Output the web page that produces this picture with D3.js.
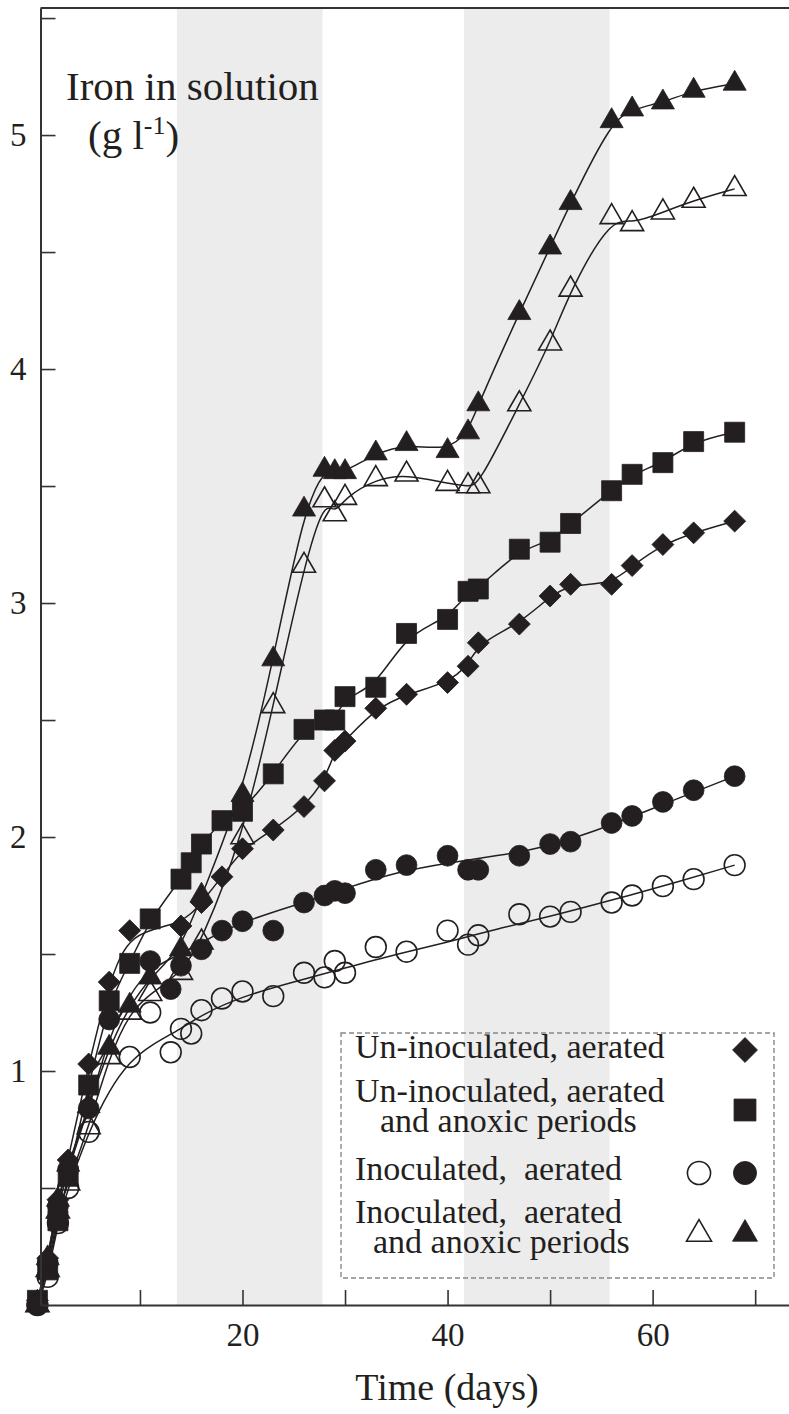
<!DOCTYPE html>
<html>
<head>
<meta charset="utf-8">
<script src="https://cdn.jsdelivr.net/npm/d3@7"></script>
<style>
  body { margin: 0; background: #fff; }
  svg { display: block; }
</style>
</head>
<body>
<svg id="chart" width="789" height="1414"></svg>
<script>
// Dissolved iron (g/l) against time (days), one [day, value] list per run
const uninocAerated = [[0,0.02],[1,0.2],[2,0.45],[3,0.62],[5,1.03],[7,1.38],[9,1.60],[14,1.62],[16,1.72],[18,1.83],[20,1.95],[23,2.03],[26,2.13],[28,2.24],[29,2.37],[30,2.41],[33,2.55],[36,2.61],[40,2.66],[42,2.73],[43,2.83],[47,2.91],[50,3.03],[52,3.08],[56,3.08],[58,3.16],[61,3.25],[64,3.30],[68,3.35]];
const uninocAnoxic = [[0,0.02],[1,0.15],[2,0.36],[3,0.55],[5,0.94],[7,1.30],[9,1.46],[11,1.65],[14,1.82],[15,1.89],[16,1.97],[18,2.07],[20,2.11],[23,2.27],[26,2.46],[28,2.50],[29,2.50],[30,2.60],[33,2.64],[36,2.87],[40,2.93],[42,3.05],[43,3.06],[47,3.23],[50,3.26],[52,3.34],[56,3.48],[58,3.55],[61,3.60],[64,3.69],[68,3.73]];
const inocAeratedA = [[0,0.0],[1,0.12],[2,0.35],[3,0.5],[5,0.74],[9,1.06],[11,1.25],[13,1.08],[14,1.18],[15,1.16],[16,1.26],[18,1.31],[20,1.34],[23,1.32],[26,1.42],[28,1.40],[29,1.47],[30,1.42],[33,1.53],[36,1.51],[40,1.60],[42,1.54],[43,1.58],[47,1.67],[50,1.66],[52,1.68],[56,1.72],[58,1.75],[61,1.79],[64,1.82],[68,1.88]];
const inocAeratedB = [[0,0.0],[1,0.18],[2,0.42],[3,0.58],[5,0.84],[7,1.22],[11,1.47],[13,1.35],[14,1.45],[16,1.52],[18,1.60],[20,1.64],[23,1.60],[26,1.72],[28,1.75],[29,1.77],[30,1.76],[33,1.86],[36,1.88],[40,1.92],[42,1.86],[43,1.86],[47,1.92],[50,1.97],[52,1.98],[56,2.06],[58,2.09],[61,2.15],[64,2.20],[68,2.26]];
const inocAnoxicA = [[0,0.0],[1,0.15],[2,0.4],[3,0.52],[5,0.76],[7,1.06],[9,1.25],[11,1.33],[14,1.42],[16,1.55],[20,2.0],[23,2.56],[26,3.16],[28,3.44],[29,3.38],[30,3.45],[33,3.53],[36,3.55],[40,3.51],[42,3.50],[43,3.50],[47,3.85],[50,4.11],[52,4.34],[56,4.65],[58,4.62],[61,4.67],[64,4.72],[68,4.77]];
const inocAnoxicB = [[0,0.0],[1,0.2],[2,0.45],[3,0.6],[5,0.85],[7,1.1],[9,1.28],[11,1.40],[14,1.52],[16,1.75],[20,2.18],[23,2.76],[26,3.40],[28,3.57],[29,3.56],[30,3.56],[33,3.64],[36,3.68],[40,3.65],[42,3.73],[43,3.85],[47,4.24],[50,4.52],[52,4.71],[56,5.06],[58,5.11],[61,5.14],[64,5.19],[68,5.22]];

// Smoothed trend curves drawn through the scattered inoculated, aerated runs
const inocAeratedATrend = [[0,0],[1,0.12],[2,0.35],[3,0.5],[5,0.74],[7,0.92],[9,1.04],[11,1.11],[14,1.18],[16,1.24],[20,1.32],[25,1.38],[30,1.44],[35,1.5],[40,1.55],[45,1.61],[50,1.66],[56,1.73],[61,1.79],[68,1.88]];
const inocAeratedBTrend = [[0,0],[1,0.18],[2,0.42],[3,0.58],[5,0.84],[7,1.15],[9,1.33],[11,1.44],[14,1.5],[16,1.55],[20,1.64],[26,1.72],[30,1.78],[35,1.85],[40,1.89],[45,1.92],[50,1.96],[56,2.05],[61,2.14],[68,2.26]];

// Anoxic periods (days) shown as grey bands
const anoxicPeriods = [[13.6, 27.8], [41.6, 55.8]];

const xTicks = [10, 20, 30, 40, 50, 60, 70];
const xTickLabels = [20, 40, 60];
const yTicks = [0.5, 1, 1.5, 2, 2.5, 3, 3.5, 4, 4.5, 5, 5.5];
const yTickLabels = [1, 2, 3, 4, 5];

const legendRows = [
  { lines: ["Un-inoculated, aerated"], indent: [0], symbols: [{ shape: "diamond", open: false }] },
  { lines: ["Un-inoculated, aerated", "and anoxic periods"], indent: [0, 25], symbols: [{ shape: "square", open: false }] },
  { lines: ["Inoculated,\u00a0 aerated"], indent: [0], symbols: [{ shape: "circle", open: true }, { shape: "circle", open: false }] },
  { lines: ["Inoculated,\u00a0 aerated", "and anoxic periods"], indent: [0, 18], symbols: [{ shape: "triangle", open: true }, { shape: "triangle", open: false }] }
];

const series = [
  { data: uninocAerated, shape: "diamond", open: false },
  { data: uninocAnoxic, shape: "square", open: false },
  { data: inocAeratedA, trend: inocAeratedATrend, shape: "circle", open: true },
  { data: inocAeratedB, trend: inocAeratedBTrend, shape: "circle", open: false },
  { data: inocAnoxicA, shape: "triangle", open: true },
  { data: inocAnoxicB, shape: "triangle", open: false }
];

(function draw() {
  const ink = "#231f20";
  const serif = "'Liberation Serif', 'Times New Roman', serif";

  const svg = d3.select("#chart");
  const plotLeft = 40.5, plotRight = 789, plotTop = 8, plotBottom = 1305;

  const x = d3.scaleLinear().domain([0.3, 73.3]).range([plotLeft, plotRight]);
  const y = d3.scaleLinear().domain([0, 5.543]).range([plotBottom, plotTop]);

  // grey bands
  svg.append("g").selectAll("rect").data(anoxicPeriods).join("rect")
    .attr("x", d => x(d[0])).attr("width", d => x(d[1]) - x(d[0]))
    .attr("y", plotTop).attr("height", plotBottom - plotTop)
    .attr("fill", "#ececec");

  // symbol shapes
  const symbolPath = {
    diamond: d3.symbol(d3.symbolSquare, 240)(),
    square: d3.symbol(d3.symbolSquare, 400)(),
    circle: d3.symbol(d3.symbolCircle, 340)(),
    triangle: d3.symbol(d3.symbolTriangle, 230)()
  };
  const legendSymbolPath = {
    diamond: d3.symbol(d3.symbolSquare, 310)(),
    square: d3.symbol(d3.symbolSquare, 480)(),
    circle: d3.symbol(d3.symbolCircle, 420)(),
    triangle: d3.symbol(d3.symbolTriangle, 270)()
  };
  function place(shape, px, py) {
    return shape === "diamond" ? `translate(${px},${py}) rotate(45)` : `translate(${px},${py})`;
  }

  // fitted curves
  const line = d3.line().x(d => x(d[0])).y(d => y(d[1])).curve(d3.curveBasis);
  svg.append("g").selectAll("path").data(series).join("path")
    .attr("d", s => line(s.trend || s.data))
    .attr("fill", "none").attr("stroke", ink).attr("stroke-width", 1.5);

  // data markers
  series.forEach(s => {
    svg.append("g").selectAll("path").data(s.data).join("path")
      .attr("d", symbolPath[s.shape])
      .attr("transform", d => place(s.shape, x(d[0]), y(d[1])))
      .attr("fill", s.open ? "none" : ink)
      .attr("stroke", ink)
      .attr("stroke-width", s.open ? 1.6 : 0.8);
  });

  // axes
  const xAxis = d3.axisBottom(x).tickValues(xTicks).tickSize(-15).tickSizeOuter(0).tickPadding(18)
    .tickFormat(d => xTickLabels.includes(d) ? d : "");
  const yAxis = d3.axisLeft(y).tickValues(yTicks).tickSize(-15).tickSizeOuter(0).tickPadding(14)
    .tickFormat(d => yTickLabels.includes(d) ? d : "");

  const gx = svg.append("g").attr("transform", `translate(0,${plotBottom})`).call(xAxis);
  const gy = svg.append("g").attr("transform", `translate(${plotLeft},0)`).call(yAxis);
  [gx, gy].forEach(g => {
    g.select(".domain").attr("stroke", "#333").attr("stroke-width", 2);
    g.selectAll(".tick line").attr("stroke", "#333").attr("stroke-width", 1.6);
    g.selectAll(".tick text").attr("fill", ink).style("font-family", serif).style("font-size", "33px");
  });

  // top frame line
  svg.append("line").attr("x1", plotLeft).attr("x2", plotRight).attr("y1", plotTop).attr("y2", plotTop)
    .attr("stroke", "#333").attr("stroke-width", 2);

  // axis titles
  svg.append("text").attr("x", 447).attr("y", 1400).attr("text-anchor", "middle")
    .style("font-family", serif).style("font-size", "38px").attr("fill", ink).text("Time (days)");

  svg.append("text").attr("x", 66).attr("y", 100)
    .style("font-family", serif).style("font-size", "41px").attr("fill", ink).text("Iron in solution");
  const unit = svg.append("text").attr("x", 88).attr("y", 149)
    .style("font-family", serif).style("font-size", "41px").attr("fill", ink);
  unit.append("tspan").text("(g l");
  unit.append("tspan").attr("dy", -15).style("font-size", "26px").text("-1");
  unit.append("tspan").attr("dy", 15).text(")");

  // legend
  const lg = svg.append("g");
  lg.append("rect").attr("x", 341).attr("y", 1033).attr("width", 433).attr("height", 245)
    .attr("fill", "none").attr("stroke", "#888").attr("stroke-width", 1.4).attr("stroke-dasharray", "5,3");

  const rowBaselines = [1058, 1102, 1180, 1223];
  const rowSymbolY = [1050, 1110, 1173, 1234];
  legendRows.forEach((row, i) => {
    const t = lg.append("text").attr("y", rowBaselines[i])
      .style("font-family", serif).style("font-size", "34px").attr("fill", ink);
    row.lines.forEach((txt, j) => {
      t.append("tspan").attr("x", 355 + row.indent[j]).attr("dy", j === 0 ? 0 : 30).text(txt);
    });
    const n = row.symbols.length;
    row.symbols.forEach((sym, k) => {
      const sx = 745 - (n - 1 - k) * 46;
      lg.append("path").attr("d", legendSymbolPath[sym.shape])
        .attr("transform", place(sym.shape, sx, rowSymbolY[i]))
        .attr("fill", sym.open ? "#fff" : ink).attr("stroke", ink)
        .attr("stroke-width", sym.open ? 1.6 : 0.8);
    });
  });
})();
</script>
</body>
</html>
